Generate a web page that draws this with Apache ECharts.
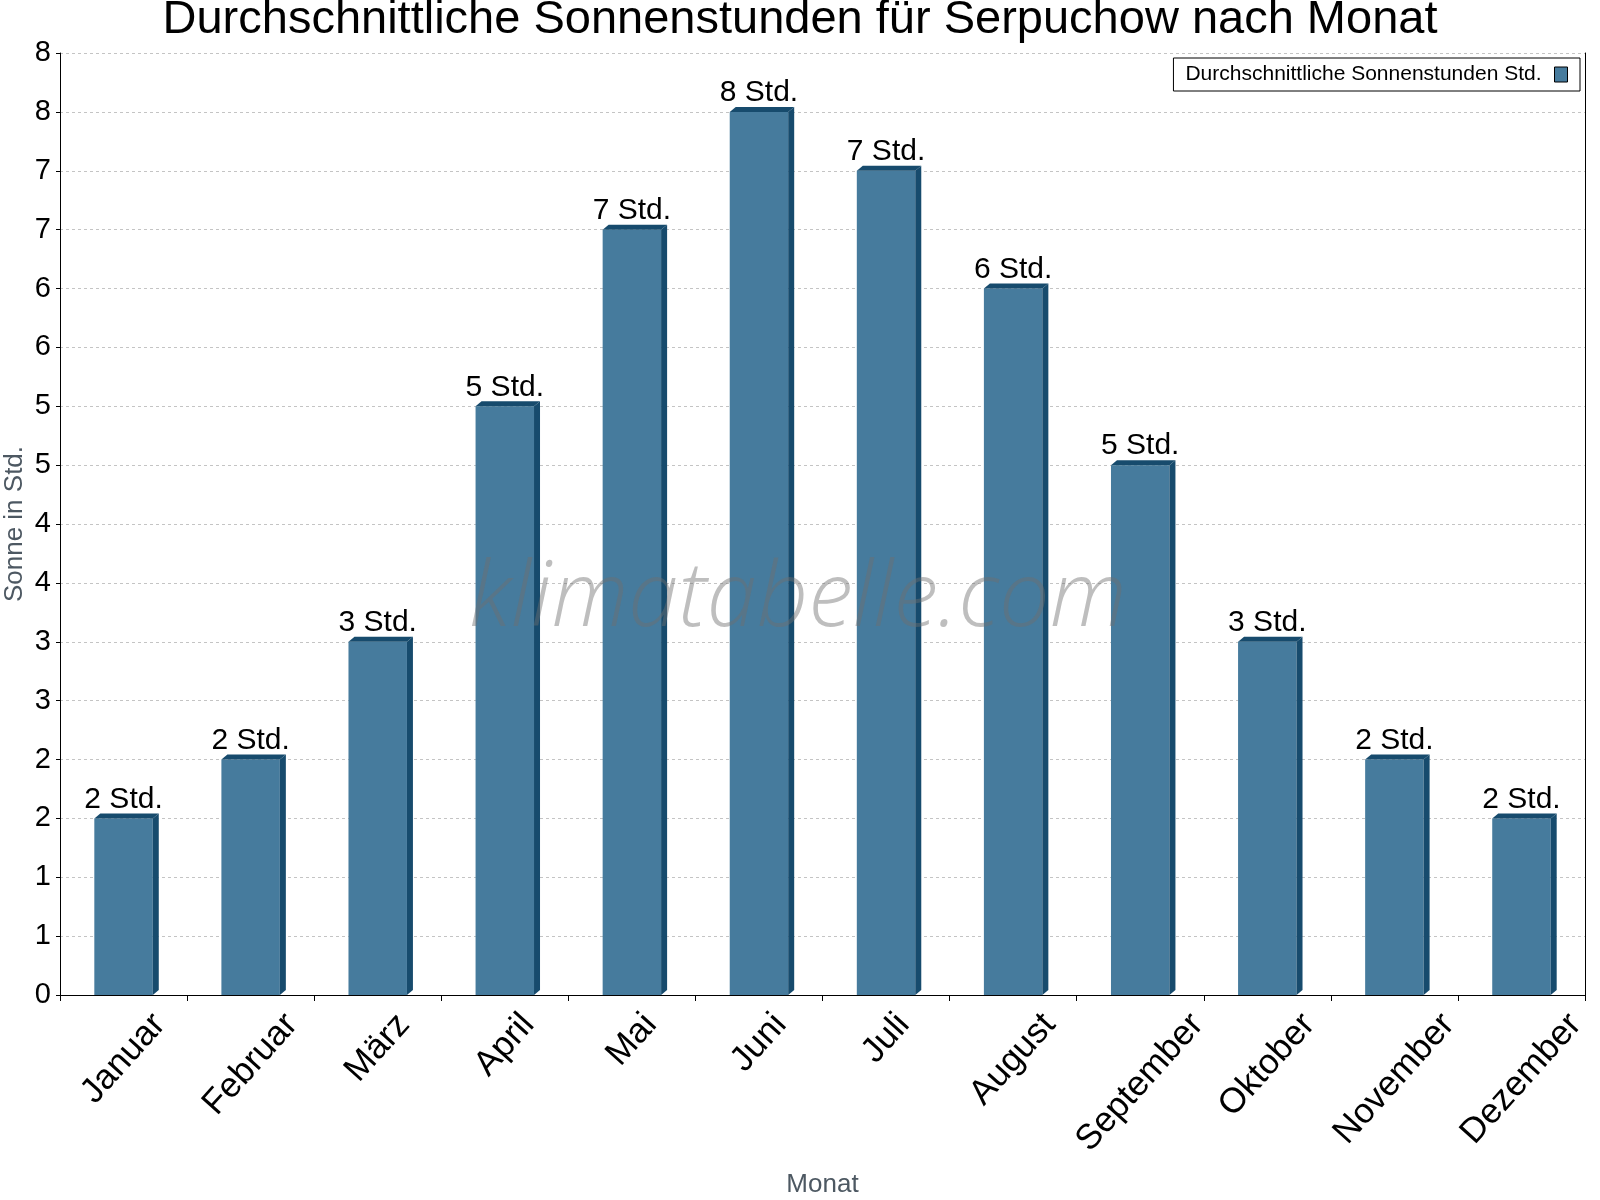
<!DOCTYPE html>
<html lang="de">
<head>
<meta charset="UTF-8">
<title>Sonnenstunden Serpuchow</title>
<script src="https://cdn.jsdelivr.net/npm/echarts@6/dist/echarts.min.js"></script>
<style>
    html, body { margin: 0; padding: 0; background: #fff; }
    #chart { width: 1600px; height: 1200px; }
</style>
</head>
<body>
<div id="chart"></div>
<script>
    var monate = ['Januar', 'Februar', 'März', 'April', 'Mai', 'Juni', 'Juli', 'August', 'September', 'Oktober', 'November', 'Dezember'];
    var sonnenStunden = [1.5, 2, 3, 5, 6.5, 7.5, 7, 6, 4.5, 3, 2, 1.5];
    var serienName = 'Durchschnittliche Sonnenstunden Std.';

    var blau = '#467b9d', blauDunkel = '#174b6d';
    var schrift = '"Liberation Sans", Arial, sans-serif';
    var grau = '#4d5862';

    // Monatsnamen messen, damit die gedrehten Beschriftungen mittig unter dem Monat hängen
    // (Text mittig ausgerichtet, per Padding entlang der Schrift verschoben, Oberkante bleibt gleich)
    var labelGroesse = 35, winkel = 48;
    var ctx = document.createElement('canvas').getContext('2d');
    ctx.font = labelGroesse + 'px ' + schrift;
    var sw = Math.sin(winkel * Math.PI / 180), cw = Math.cos(winkel * Math.PI / 180);
    var xDaten = monate.map(function (m) {
        var w = ctx.measureText(m).width;
        return {
            value: m,
            textStyle: {
                align: 'center',
                verticalAlign: 'top',
                padding: [w * sw * cw / 2 - labelGroesse / 2, w * sw * sw, 0, 0]
            }
        };
    });

    // Balken mit kleinem 3D-Rand rechts und oben
    function zeichneBalken(params, api) {
        var idx = api.value(0), wert = api.value(1);
        var oben = api.coord([idx, wert]), unten = api.coord([idx, 0]);
        var bw = api.size([1, 0])[0] * 0.46;
        var x0 = oben[0] - bw / 2, x1 = oben[0] + bw / 2, t = 6, h = 5;
        return {
            type: 'group',
            children: [
                { type: 'rect', shape: { x: x0, y: oben[1], width: bw, height: unten[1] - oben[1] }, style: { fill: blau } },
                { type: 'polygon', shape: { points: [[x1, oben[1]], [x1 + t, oben[1] - h], [x1 + t, unten[1] - h], [x1, unten[1]]] }, style: { fill: blauDunkel } },
                { type: 'polygon', shape: { points: [[x0, oben[1]], [x0 + t, oben[1] - h], [x1 + t, oben[1] - h], [x1, oben[1]]] }, style: { fill: blauDunkel } },
                { type: 'text', style: { text: Math.round(wert) + ' Std.', x: oben[0], y: oben[1] - 4, align: 'center', verticalAlign: 'bottom', fontSize: 30, fontFamily: schrift, fill: '#000' } }
            ]
        };
    }

    var myChart = echarts.init(document.getElementById('chart'));
    var option = {
        animation: false,
        backgroundColor: '#fff',
        title: {
            text: 'Durchschnittliche Sonnenstunden für Serpuchow nach Monat',
            left: 'center',
            top: -3,
            padding: 0,
            textStyle: { fontFamily: schrift, fontSize: 47, fontWeight: 'normal', color: '#000' }
        },
        legend: {
            right: 20,
            top: 58,
            align: 'right',
            selectedMode: false,
            itemWidth: 13,
            itemHeight: 15,
            padding: [6, 12, 6, 12],
            borderColor: '#000',
            borderWidth: 1,
            backgroundColor: '#fff',
            textStyle: { fontFamily: schrift, fontSize: 21, color: '#000', padding: [0, 8, 0, 0] },
            itemStyle: { borderColor: '#000', borderWidth: 1 },
            data: [{ name: serienName, icon: 'rect' }]
        },
        grid: { left: 60, right: 15, top: 53, bottom: 205, outerBoundsMode: 'none' },
        xAxis: {
            type: 'category',
            data: xDaten,
            name: 'Monat',
            nameLocation: 'middle',
            nameGap: 177,
            nameMoveOverlap: false,
            nameTextStyle: { fontFamily: schrift, fontSize: 26, color: grau },
            axisLine: { lineStyle: { color: '#000', width: 1 } },
            axisTick: { show: true, length: 6, lineStyle: { color: '#000' } },
            axisLabel: {
                interval: 0,
                rotate: winkel,
                margin: 24,
                fontFamily: schrift,
                fontSize: labelGroesse,
                color: '#000'
            },
            splitLine: { show: false }
        },
        yAxis: [
            {
                type: 'value',
                min: 0,
                max: 8,
                interval: 0.5,
                name: 'Sonne in Std.',
                nameLocation: 'middle',
                nameRotate: 90,
                nameGap: 32,
                nameMoveOverlap: false,
                nameTextStyle: { fontFamily: schrift, fontSize: 26, color: grau },
                axisLine: { show: true, lineStyle: { color: '#000' } },
                axisTick: { show: true, length: 4, lineStyle: { color: '#000' } },
                axisLabel: {
                    margin: 9,
                    fontFamily: schrift,
                    fontSize: 29,
                    color: '#000',
                    formatter: function (v) { return String(Math.round(v)); }
                },
                splitLine: { show: true, lineStyle: { color: '#c4c4c4', type: [3, 3] } }
            },
            {
                type: 'value',
                position: 'right',
                min: 0,
                max: 8,
                interval: 0.5,
                axisLine: { show: true, lineStyle: { color: '#000' } },
                axisTick: { show: false },
                axisLabel: { show: false },
                splitLine: { show: false }
            }
        ],
        graphic: [
            {
                type: 'text',
                x: 798,
                y: 600,
                z: 100,
                silent: true,
                style: {
                    text: 'klimatabelle.com',
                    align: 'center',
                    verticalAlign: 'middle',
                    fontFamily: '"Open Sans", sans-serif',
                    fontStyle: 'italic',
                    fontWeight: 300,
                    fontSize: 90,
                    fill: 'rgba(110,110,110,0.45)'
                }
            }
        ],
        series: [
            {
                name: serienName,
                type: 'custom',
                renderItem: zeichneBalken,
                itemStyle: { color: blau },
                encode: { x: 0, y: 1 },
                data: sonnenStunden.map(function (v, i) { return [i, v]; })
            }
        ]
    };
    myChart.setOption(option);
</script>
</body>
</html>
